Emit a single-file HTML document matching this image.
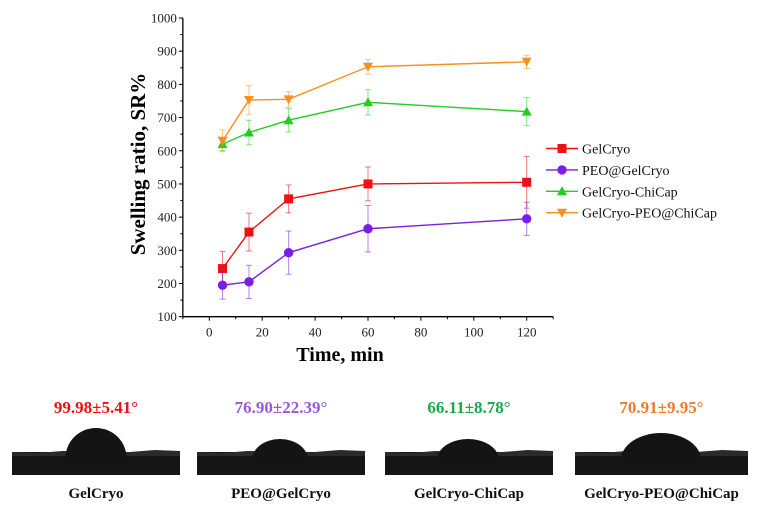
<!DOCTYPE html>
<html><head><meta charset="utf-8"><style>
body{margin:0;background:#fff;width:760px;height:508px;overflow:hidden;font-family:"Liberation Serif",serif}
</style></head><body>
<svg id="chart" width="760" height="508" viewBox="0 0 760 508" font-family="Liberation Serif, serif">
<g id="axes"></g><g id="series"></g><g id="legend"></g>
<g id="photos"></g>
</svg>
<script>
const times=[5,15,30,60,120];
const seriesNames=["GelCryo","PEO@GelCryo","GelCryo-ChiCap","GelCryo-PEO@ChiCap"];
const gelCryo=[245,355,455,500,505];
const gelCryoErr=[52,57,42,51,78];
const peoGelCryo=[195,205,293,365,395];
const peoGelCryoErr=[42,50,65,70,50];
const chiCap=[620,655,692,746,718];
const chiCapErr=[20,37,35,38,42];
const peoChiCap=[630,753,755,853,868];
const peoChiCapErr=[33,43,23,22,20];
const xTicks=[0,20,40,60,80,100,120];
const yTicks=[100,200,300,400,500,600,700,800,900,1000];
const angleLabels=["99.98±5.41°","76.90±22.39°","66.11±8.78°","70.91±9.95°"];

const NS="http://www.w3.org/2000/svg";
const X=v=>209.3+(v)*2.645;
const Y=v=>316.7-(v-100)*(298.7/900);
function mk(tag,attrs,parent,text){const e=document.createElementNS(NS,tag);for(const k in attrs)e.setAttribute(k,attrs[k]);if(text!==undefined)e.textContent=text;parent.appendChild(e);return e;}
const axes=document.getElementById('axes');
const ax=mk('line',{x1:X(-10),x2:X(130),y1:Y(100),y2:Y(100),stroke:'#000','stroke-width':1.3},axes);

const ay=mk('line',{x1:X(-10),x2:X(-10),y1:Y(100),y2:Y(1000),stroke:'#000','stroke-width':1.3},axes);

for(let v=-10;v<=130;v+=10){mk('line',{x1:X(v),x2:X(v),y1:Y(100),y2:Y(100)+(v%20===0?4:2.5),stroke:'#000'},axes);}
xTicks.forEach(v=>{const t=mk('text',{x:X(v),y:Y(100)+20,'text-anchor':'middle','font-size':13,fill:'#222'},axes,v);
});
for(let v=100;v<=1000;v+=50){mk('line',{x1:X(-10),x2:X(-10)-(v%100===0?4:2.5),y1:Y(v),y2:Y(v),stroke:'#000'},axes);}
yTicks.forEach(v=>{const t=mk('text',{x:X(-10)-6,y:Y(v)+4.5,'text-anchor':'end','font-size':13,fill:'#222'},axes,v);
});
const xt=mk('text',{x:340,y:361,'text-anchor':'middle','font-size':20,'font-weight':'bold'},axes,'Time, min');

const yt=mk('text',{x:0,y:0,'text-anchor':'middle','font-size':21,'font-weight':'bold',transform:'translate(145,164) rotate(-90)'},axes,'Swelling ratio, SR%');


const colors=['#ee1111','#7a1ee6','#22cc22','#f7901e'];
const vals=[gelCryo,peoGelCryo,chiCap,peoChiCap];
const errs=[gelCryoErr,peoGelCryoErr,chiCapErr,peoChiCapErr];
const shapes=['square','circle','up','down'];
function marker(shape,cx,cy,c,parent){
 if(shape==='square')return mk('rect',{x:cx-4.5,y:cy-4.5,width:9,height:9,fill:c},parent);
 if(shape==='circle')return mk('circle',{cx:cx,cy:cy,r:4.7,fill:c},parent);
 if(shape==='up')return mk('path',{d:`M${cx},${cy-5}L${cx+5},${cy+4}L${cx-5},${cy+4}Z`,fill:c},parent);
 return mk('path',{d:`M${cx},${cy+5}L${cx+5},${cy-4}L${cx-5},${cy-4}Z`,fill:c},parent);
}
const sg=document.getElementById('series');
vals.forEach((arr,i)=>{
 const g=mk('g',{},sg);
 
 
 arr.forEach((v,j)=>{const x=X(times[j]),e=errs[i][j];
  mk('line',{x1:x,x2:x,y1:Y(v-e),y2:Y(v+e),stroke:colors[i],'stroke-opacity':0.55,'stroke-width':1},g);
  mk('line',{x1:x-3,x2:x+3,y1:Y(v-e),y2:Y(v-e),stroke:colors[i],'stroke-opacity':0.55},g);
  mk('line',{x1:x-3,x2:x+3,y1:Y(v+e),y2:Y(v+e),stroke:colors[i],'stroke-opacity':0.55},g);});
 const l=mk('polyline',{points:arr.map((v,j)=>X(times[j])+','+Y(v)).join(' '),fill:'none',stroke:colors[i],'stroke-width':1.4},g);
 
 arr.forEach((v,j)=>{const m=marker(shapes[i],X(times[j]),Y(v),colors[i],g);
  });
});
const lg=document.getElementById('legend');
seriesNames.forEach((n,i)=>{const y=148.5+i*21.4;
 const g=mk('g',{},lg);
 
 mk('line',{x1:546,x2:578,y1:y,y2:y,stroke:colors[i],'stroke-width':1.4},g);
 marker(shapes[i],562,y,colors[i],g);
 mk('text',{x:582,y:y+5,'font-size':14,fill:'#111'},g,n);});

const pg=document.getElementById('photos');
const photoX=[12,197,385,575];const photoW=[168,168,168,173];
const dropCx=[96,280,468,661];const dropW=[61,56,62,80];const dropTop=[428,439,439,433];const dropCy=[458,460,460,460];
const angleColors=['#ee1111','#9a5ad6','#1aa84a','#f07a2a'];
angleLabels.forEach((a,i)=>{
 const x0=photoX[i],w=photoW[i],cx=x0+w/2;
 const g=mk('g',{},pg);
 
 const t=mk('text',{x:cx,y:413,'text-anchor':'middle','font-size':17,'font-weight':'bold',fill:angleColors[i]},g,a);
 
 mk('rect',{x:x0,y:452,width:w,height:23,fill:'#151515'},g);
 mk('path',{d:`M${x0},452 L${x0+w*0.15},453 L${x0+w*0.3},451 L${x0+w*0.7},452 L${x0+w*0.85},450 L${x0+w},451 L${x0+w},456 L${x0},456Z`,fill:'#2a2a2a'},g);
 const rx=dropW[i]/2,ry=dropCy[i]-dropTop[i],dc=dropCx[i];
 mk('path',{d:`M${dc-rx},462 L${dc-rx},${dropCy[i]} A${rx} ${ry} 0 0 1 ${dc+rx},${dropCy[i]} L${dc+rx},462Z`,fill:'#141414'},g);
 const l=mk('text',{x:cx,y:498,'text-anchor':'middle','font-size':15,'font-weight':'bold',fill:'#111'},g,seriesNames[i]);
 
});
</script>
</body></html>
